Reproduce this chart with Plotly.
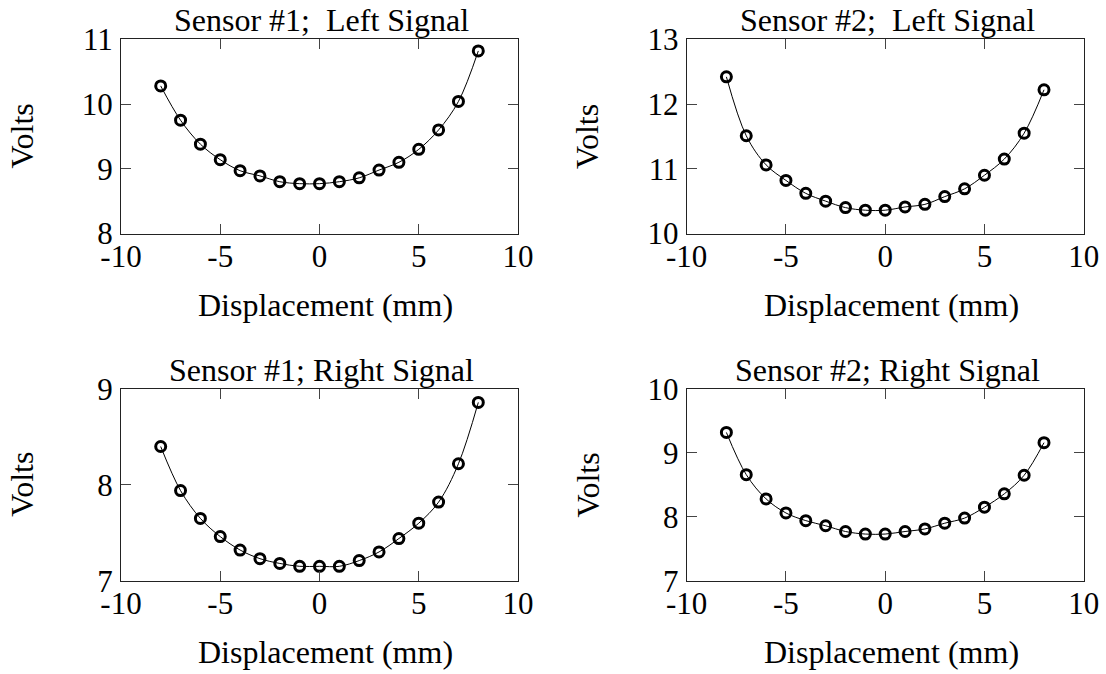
import plotly.graph_objects as go

W, H = 1106, 674

# Displacement positions (mm)
displacement = [-8, -7, -6, -5, -4, -3, -2, -1, 0, 1, 2, 3, 4, 5, 6, 7, 8]

# Measured output voltages
s1_left = [10.28, 9.75, 9.38, 9.14, 8.97, 8.89, 8.80, 8.77, 8.77, 8.80, 8.86, 8.98, 9.10, 9.30, 9.60, 10.04, 10.82]
s2_left = [12.42, 11.51, 11.06, 10.82, 10.62, 10.50, 10.40, 10.36, 10.36, 10.41, 10.45, 10.57, 10.69, 10.90, 11.15, 11.55, 12.22]
s1_right = [8.40, 7.94, 7.65, 7.46, 7.32, 7.23, 7.18, 7.15, 7.15, 7.15, 7.21, 7.30, 7.44, 7.60, 7.82, 8.22, 8.86]
s2_right = [9.32, 8.66, 8.28, 8.06, 7.94, 7.86, 7.77, 7.73, 7.73, 7.77, 7.81, 7.90, 7.98, 8.15, 8.36, 8.65, 9.16]

titles = ["Sensor #1;\u00a0 Left Signal", "Sensor #2;\u00a0 Left Signal",
          "Sensor #1; Right Signal", "Sensor #2; Right Signal"]
x_label = "Displacement (mm)"
y_label = "Volts"

x_ticks = [-10, -5, 0, 5, 10]
x_ticktext = ["-10", "-5", "0", "5", "10"]
y_ranges = [[8, 11], [10, 13], [7, 9], [7, 10]]

FONT = "Liberation Serif, Times New Roman, serif"
FS = 32
TICK_FS = 31

# panel boxes in pixels: (left, right, top, bottom)
boxes = [
    (121, 518, 39.3, 233.5),
    (686.7, 1083.7, 39.3, 233.5),
    (121, 518, 389, 580.7),
    (686.7, 1083.7, 389, 580.7),
]


def px(x):
    return x / W


def py(y):
    return 1 - y / H


series = [s1_left, s2_left, s1_right, s2_right]
fig = go.Figure()
annotations = []
layout = {}

for i, (vals, box, yr, title) in enumerate(zip(series, boxes, y_ranges, titles)):
    n = i + 1
    xa = "x" if n == 1 else f"x{n}"
    ya = "y" if n == 1 else f"y{n}"
    fig.add_trace(go.Scatter(
        x=displacement, y=vals, mode="lines+markers",
        line=dict(color="black", width=1, shape="spline", smoothing=1.0),
        marker=dict(symbol="circle-open", size=10,
                    line=dict(color="#3c3c3c", width=3)),
        xaxis=xa, yaxis=ya, showlegend=False, hoverinfo="x+y",
    ))
    l, r, t, b = box
    common = dict(showline=True, mirror="ticks", linecolor="#222", linewidth=1,
                  ticks="inside", ticklen=10, tickwidth=1, tickcolor="#444",
                  showgrid=False, zeroline=False, automargin=False,
                  tickfont=dict(family=FONT, size=TICK_FS, color="black"))
    layout["xaxis" if n == 1 else f"xaxis{n}"] = dict(
        domain=[px(l), px(r)], range=[-10, 10], tickvals=x_ticks,
        ticktext=x_ticktext, anchor=ya, ticklabelstandoff=-5, **common)
    yt = list(range(yr[0], yr[1] + 1))
    layout["yaxis" if n == 1 else f"yaxis{n}"] = dict(
        domain=[py(b), py(t)], range=yr, tickvals=yt,
        ticktext=[str(v) for v in yt], anchor=xa, ticklabelstandoff=1, **common)

    cx = (l + r) / 2
    annotations.append(dict(text=title, x=px(cx + 2), y=py(t - 19), xref="paper", yref="paper",
                            xanchor="center", yanchor="middle", showarrow=False,
                            font=dict(family=FONT, size=FS, color="black")))
    annotations.append(dict(text=x_label, x=px(cx + 6), y=py(b + 71), xref="paper", yref="paper",
                            xanchor="center", yanchor="middle", showarrow=False,
                            font=dict(family=FONT, size=FS, color="black")))
    annotations.append(dict(text=y_label, x=px(l - 99), y=py((t + b) / 2), xref="paper", yref="paper",
                            xanchor="center", yanchor="middle", showarrow=False, textangle=-90,
                            font=dict(family=FONT, size=FS, color="black")))

fig.update_layout(
    width=W, height=H, margin=dict(l=0, r=0, t=0, b=0, autoexpand=False),
    paper_bgcolor="white", plot_bgcolor="white",
    annotations=annotations, **layout,
)

fig.write_html("out.html")
